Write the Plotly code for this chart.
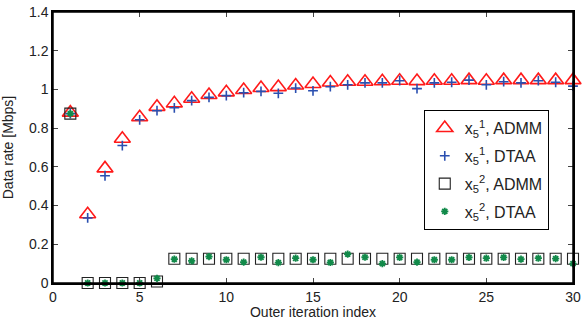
import plotly.graph_objects as go

iterations = list(range(1, 31))

x1_admm = [0.88, 0.355, 0.592, 0.745, 0.856, 0.91, 0.928, 0.952, 0.971, 0.985,
           0.997, 1.007, 1.012, 1.02, 1.028, 1.036, 1.04, 1.04, 1.042, 1.045,
           1.043, 1.045, 1.045, 1.048, 1.045, 1.048, 1.048, 1.048, 1.048, 1.048]
x1_dtaa = [0.875, 0.336, 0.554, 0.71, 0.843, 0.89, 0.905, 0.942, 0.959, 0.968,
           0.983, 0.99, 0.98, 1.007, 0.993, 1.014, 1.024, 1.034, 1.034, 1.045,
           1.004, 1.034, 1.037, 1.048, 1.024, 1.04, 1.034, 1.045, 1.037, 1.017]
x2_admm = [0.875, 0.0, 0.0, 0.0, 0.0, 0.008, 0.125, 0.125, 0.125, 0.125,
           0.125, 0.125, 0.125, 0.125, 0.125, 0.125, 0.125, 0.125, 0.125, 0.125,
           0.125, 0.125, 0.125, 0.125, 0.125, 0.125, 0.125, 0.125, 0.125, 0.125]
x2_dtaa = [0.875, 0.0, 0.0, 0.0, 0.0, 0.024, 0.123, 0.114, 0.136, 0.12,
           0.108, 0.133, 0.105, 0.128, 0.12, 0.106, 0.149, 0.133, 0.1, 0.132,
           0.108, 0.12, 0.12, 0.132, 0.128, 0.132, 0.123, 0.128, 0.126, 0.1]

series_names = ["x<sub>5</sub><sup>1</sup>, ADMM", "x<sub>5</sub><sup>1</sup>, DTAA",
                "x<sub>5</sub><sup>2</sup>, ADMM", "x<sub>5</sub><sup>2</sup>, DTAA"]

x_ticks = [0, 5, 10, 15, 20, 25, 30]
y_ticks = [0, 0.2, 0.4, 0.6, 0.8, 1.0, 1.2, 1.4]
y_tick_labels = ["0", "0.2", "0.4", "0.6", "0.8", "1", "1.2", "1.4"]

x_range = [0, 30]
y_range = [0, 1.4]

fig = go.Figure()
fig.add_trace(go.Scatter(x=iterations, y=x1_admm, mode="markers", name=series_names[0],
                         cliponaxis=False, legendgroup="g1",
                         marker=dict(symbol="triangle-up-open", size=14, color="#ff1a1a",
                                     line=dict(width=1.6, color="#ff1a1a"))))
fig.add_trace(go.Scatter(x=iterations, y=x1_dtaa, mode="markers", name=series_names[1],
                         cliponaxis=False, legendgroup="g2",
                         marker=dict(symbol="cross-thin-open", size=7, color="#2a4fb0",
                                     line=dict(width=1.6, color="#2a4fb0"))))
fig.add_trace(go.Scatter(x=iterations, y=x2_admm, mode="markers", name=series_names[2],
                         cliponaxis=False, legendgroup="g3",
                         marker=dict(symbol="square-open", size=11, color="#222222",
                                     line=dict(width=1.1, color="#222222"))))
fig.add_trace(go.Scatter(x=iterations, y=x2_dtaa, mode="markers", name=series_names[3],
                         cliponaxis=False, legendgroup="g4",
                         marker=dict(symbol="asterisk-open", size=6, color="#128a4a",
                                     line=dict(width=1.8, color="#128a4a"))))

axis_font = dict(family="Liberation Sans, Arial, sans-serif", size=14, color="#222222")

fig.update_layout(
    width=583, height=320,
    margin=dict(l=53, r=10, t=12, b=37),
    paper_bgcolor="white", plot_bgcolor="white",
    font=axis_font,
    showlegend=True,
    legend=dict(x=0.713, y=0.638, xanchor="left", yanchor="top",
                bordercolor="black", borderwidth=1, bgcolor="white",
                font=dict(family="Liberation Sans, Arial, sans-serif", size=16, color="#222222"),
                tracegroupgap=4, itemsizing="trace"),
    xaxis=dict(range=x_range, tickvals=x_ticks, ticks="inside", ticklen=5,
               showline=True, linecolor="black", linewidth=1.5, mirror="ticks",
               showgrid=False, zeroline=False, tickfont=axis_font, automargin=False,
               ticklabeloverflow="allow",
               title=dict(text="Outer iteration index", font=axis_font)),
    yaxis=dict(range=y_range, tickvals=y_ticks, ticktext=y_tick_labels, ticks="inside", ticklen=5,
               showline=True, linecolor="black", linewidth=1.5, mirror="ticks",
               showgrid=False, zeroline=False, tickfont=axis_font, automargin=False,
               ticklabeloverflow="allow",
               title=dict(text="Data rate [Mbps]", font=axis_font)),
    shapes=[dict(type="rect", xref="paper", yref="paper", x0=0, x1=1, y0=0, y1=1,
                 line=dict(color="black", width=1.5), fillcolor="rgba(0,0,0,0)", layer="above")],
)

fig.write_html("out.html", config={"displayModeBar": False},
               post_script="document.body.style.margin='0';document.body.style.overflow='hidden';")
